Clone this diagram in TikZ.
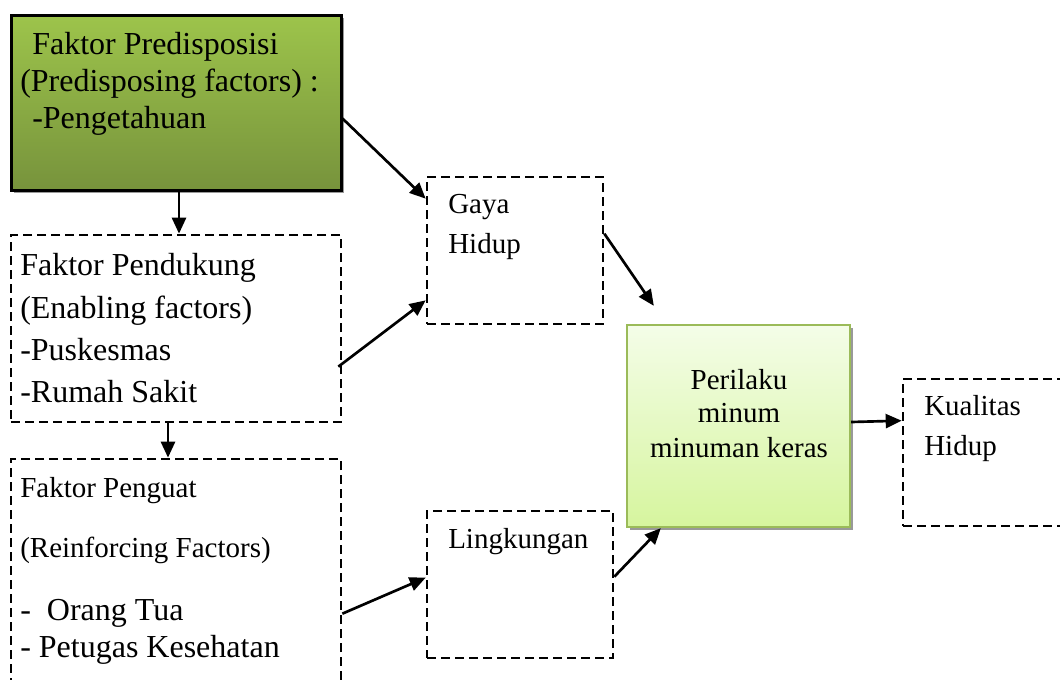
\documentclass[tikz,border=0pt]{standalone}
\usepackage{fontspec}
\setmainfont{Liberation Serif}
\usetikzlibrary{arrows.meta,calc,shadows}
\definecolor{gTop}{HTML}{9DC44B}
\definecolor{gBot}{HTML}{77933C}
\definecolor{lTop}{HTML}{F4FDE8}
\definecolor{lBot}{HTML}{D6F59E}
\definecolor{lBorder}{HTML}{9BBB59}
\tikzset{
  dbox/.style={draw, line width=2pt, dash pattern=on 6.5pt off 4pt, inner sep=0pt, fill=none},
  conn/.style={line width=2pt, -{Triangle[length=12pt,width=10.5pt]}},
  big/.style={font=\fontsize{24}{28}\selectfont, anchor=base west, inner sep=0pt},
  small/.style={font=\fontsize{21.75}{26}\selectfont, anchor=base west, inner sep=0pt},
  shad/.style={drop shadow={shadow xshift=2.3pt, shadow yshift=-2.3pt, fill=black!40, opacity=1}}
}
\begin{document}
\begin{tikzpicture}[x=0.75pt,y=-0.75pt]
\clip (0,0) rectangle (1060,679);
\fill[white] (0,0) rectangle (1060,679);
% boxes
\node[shad, draw=black, line width=2.25pt, top color=gTop, bottom color=gBot, inner sep=0pt,
      minimum width=247.5pt, minimum height=131.25pt] (A) at (176,102.5) {};
\node[dbox, minimum width=247.5pt, minimum height=140.25pt] (B) at (176,328.5) {};
\node[dbox, minimum width=247.5pt, minimum height=180.75pt] (C) at (176,579.5) {};
\node[dbox, minimum width=132pt, minimum height=110.25pt] (D) at (515,250.5) {};
\node[shad, draw=lBorder, line width=1.75pt, top color=lTop, bottom color=lBot, inner sep=0pt,
      minimum width=167.25pt, minimum height=151.5pt] (E) at (738.5,426) {};
\node[dbox, minimum width=147.75pt, minimum height=110.25pt] (F) at (1001.5,452.5) {};
\node[dbox, minimum width=139.5pt, minimum height=110.25pt] (G) at (520,584.5) {};
% texts
\node[big] (a1) at (32,54) {Faktor Predisposisi};
\node[big] (a2) at (20,91) {(Predisposing factors) :};
\node[big] (a3) at (32,128) {-Pengetahuan};
\node[big] (b1) at (20,275) {Faktor Pendukung};
\node[big] (b2) at (20,318) {(Enabling factors)};
\node[big] (b3) at (20,360) {-Puskesmas};
\node[big] (b4) at (20,402) {-Rumah Sakit};
\node[small] (c1) at (20,497) {Faktor Penguat};
\node[small] (c2) at (20,557) {(Reinforcing Factors)};
\node[big] (c3) at (20,620) {-~~Orang Tua};
\node[big] (c4) at (20,657) {- Petugas Kesehatan};
\node[small] (d1) at (448,213) {Gaya};
\node[small] (d2) at (448,253) {Hidup};
\node[small] (g1) at (448,548) {Lingkungan};
\node[small] (f1) at (924,415) {Kualitas};
\node[small] (f2) at (924,455) {Hidup};
\node[small, anchor=base] (e1) at (739,389) {Perilaku};
\node[small, anchor=base] (e2) at (739,422) {minum};
\node[small, anchor=base] (e3) at (739,457) {minuman keras};
% connectors
\draw[conn] ($(A.south)+(3,0)$) -- ($(B.north)+(3,0)$);
\draw[conn] ($(B.south)+(-8,0)$) -- ($(C.north)+(-8,0)$);
\draw[conn] ($(A.north east)+(0,105)$) -- ($(D.north west)+(0,23)$);
\draw[conn] ($(B.north east)+(-4,133)$) -- ($(D.south west)+(0,-25)$);
\draw[conn] ($(D.north east)+(0,58)$) -- ($(E.north west)+(28,-18)$);
\draw[conn] ($(C.north east)+(0,156)$) -- ($(G.north west)+(0,68)$);
\draw[conn] ($(G.north east)+(0,67)$) -- ($(E.south west)+(35,0)$);
\draw[conn] ($(E.east)+(0,-4)$) -- ($(F.north west)+(0,43)$);
\end{tikzpicture}
\end{document}
